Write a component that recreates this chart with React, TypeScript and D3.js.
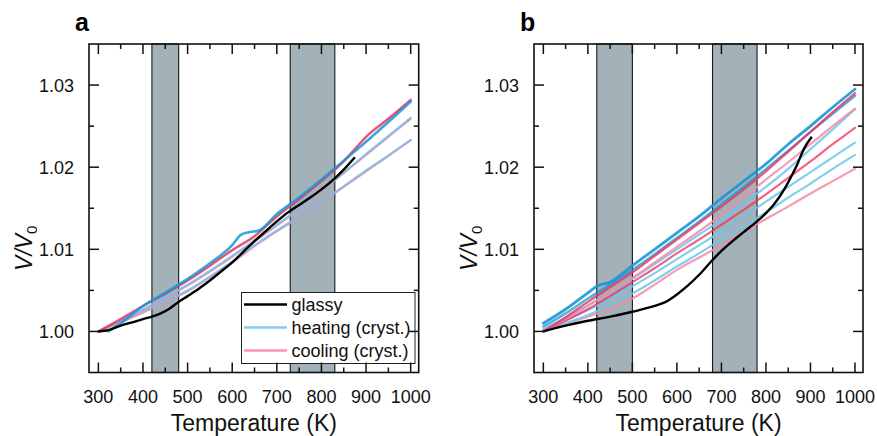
import React from "react";
import * as d3 from "d3";

// ---------- data ----------
const xTicksMajor = [300, 400, 500, 600, 700, 800, 900, 1000];
const xTicksMinor = [350, 450, 550, 650, 750, 850, 950];
const yTicksMajor = [1.0, 1.01, 1.02, 1.03];
const yTicksMinor = [1.005, 1.015, 1.025];
const yTickLabels = ["1.00", "1.01", "1.02", "1.03"];

const bandsA = [[420, 480], [730, 830]];
const bandsB = [[420, 500], [680, 780]];

// panel a
const tGlassA = [300, 325, 350, 375, 400, 420, 440, 460, 480, 500, 525, 550, 575, 600, 625, 650, 675, 700, 725, 750, 775, 800, 825, 850, 875];
const vGlassA = [1.0, 1.0002, 1.0007, 1.0011, 1.0015, 1.0018, 1.0022, 1.0028, 1.0036, 1.0043, 1.0052, 1.0062, 1.0073, 1.0084, 1.0097, 1.011, 1.0122, 1.0134, 1.0145, 1.0154, 1.0163, 1.0173, 1.0184, 1.0197, 1.0212];

const tHeatA1 = [322, 350, 400, 450, 500, 550, 600, 620, 640, 660, 700, 750, 800, 850, 900, 950, 1000];
const vHeatA1 = [1.0, 1.001, 1.0031, 1.0047, 1.0064, 1.0083, 1.0105, 1.0118, 1.0121, 1.0123, 1.0143, 1.0163, 1.0185, 1.0208, 1.0231, 1.0255, 1.028];
const tCoolA1 = [300, 350, 400, 450, 500, 550, 600, 650, 700, 750, 800, 850, 880, 900, 950, 1000];
const vCoolA1 = [1.0, 1.0015, 1.0031, 1.0046, 1.0062, 1.008, 1.0099, 1.0116, 1.014, 1.0161, 1.0183, 1.0207, 1.0225, 1.0237, 1.0259, 1.0282];
const tA = [300, 350, 400, 450, 500, 550, 600, 650, 700, 750, 800, 850, 900, 950, 1000];
const vHeatA2 = [1.0, 1.0013, 1.0027, 1.0042, 1.0057, 1.0074, 1.0092, 1.0111, 1.013, 1.015, 1.0172, 1.0193, 1.0216, 1.0238, 1.026];
const vCoolA2 = [1.0, 1.0012, 1.0026, 1.0041, 1.0056, 1.0073, 1.0091, 1.011, 1.0129, 1.0149, 1.0171, 1.0193, 1.0215, 1.0237, 1.0259];
const vHeatA3 = [1.0, 1.0012, 1.0024, 1.0037, 1.005, 1.0067, 1.0085, 1.0105, 1.0123, 1.014, 1.0158, 1.0177, 1.0196, 1.0214, 1.0233];
const vCoolA3 = [1.0, 1.0011, 1.0023, 1.0036, 1.0049, 1.0066, 1.0084, 1.0104, 1.0122, 1.0139, 1.0157, 1.0176, 1.0195, 1.0214, 1.0233];

// panel b
const tGlassB = [300, 350, 400, 450, 500, 550, 575, 600, 625, 650, 680, 700, 725, 750, 780, 800, 820, 840, 860, 870, 885, 903];
const vGlassB = [1.0, 1.0007, 1.0013, 1.0018, 1.0024, 1.0031, 1.0036, 1.0045, 1.0056, 1.0069, 1.0087, 1.0098, 1.011, 1.0121, 1.0134, 1.0144, 1.0156, 1.0172, 1.0192, 1.0203, 1.0222, 1.0237];

const tHeatB1 = [300, 350, 400, 420, 450, 500, 550, 600, 650, 700, 750, 800, 850, 900, 950, 1000];
const vHeatB1 = [1.001, 1.0027, 1.0047, 1.0055, 1.006, 1.008, 1.01, 1.012, 1.014, 1.0162, 1.0183, 1.0204, 1.0228, 1.025, 1.0273, 1.0295];
const tB = [300, 350, 400, 450, 500, 550, 600, 650, 700, 750, 800, 850, 900, 950, 1000];
const vCoolB1 = [1.0, 1.0017, 1.0036, 1.0054, 1.0072, 1.0092, 1.0112, 1.0132, 1.0152, 1.0173, 1.0195, 1.0219, 1.0243, 1.0267, 1.029];
const vHeatB2 = [1.0006, 1.0022, 1.004, 1.0057, 1.0075, 1.0094, 1.0114, 1.0134, 1.0155, 1.0176, 1.0198, 1.022, 1.0243, 1.0265, 1.0287];
const vCoolB2 = [1.0, 1.0015, 1.0031, 1.0048, 1.0065, 1.0084, 1.0103, 1.0122, 1.0142, 1.0163, 1.0185, 1.0206, 1.0228, 1.025, 1.0271];
const vHeatB3 = [1.0003, 1.0017, 1.0032, 1.0048, 1.0064, 1.0082, 1.01, 1.0118, 1.0136, 1.0156, 1.0176, 1.0198, 1.0222, 1.0246, 1.0271];
const vCoolB3 = [1.0, 1.0013, 1.0027, 1.0043, 1.006, 1.0077, 1.0095, 1.0112, 1.013, 1.0148, 1.0167, 1.0187, 1.0207, 1.0228, 1.0248];
const vHeatB4 = [1.0002, 1.0014, 1.0026, 1.004, 1.0055, 1.0071, 1.0088, 1.0105, 1.0122, 1.014, 1.0158, 1.0176, 1.0194, 1.0212, 1.023];
const vCoolB4 = [1.0, 1.0009, 1.0018, 1.0028, 1.004, 1.0057, 1.0075, 1.009, 1.0105, 1.0121, 1.0137, 1.0152, 1.0168, 1.0183, 1.0198];
const vHeatB5 = [1.0001, 1.001, 1.002, 1.0032, 1.0046, 1.0062, 1.0079, 1.0095, 1.0112, 1.0128, 1.0145, 1.0163, 1.018, 1.0198, 1.0215];

const legendLabels = ["glassy", "heating (cryst.)", "cooling (cryst.)"];

// ---------- styles ----------
const FONT = "'Liberation Sans', Arial, Helvetica, sans-serif";
const BLUE = "#1897d6";
const LBLUE = "#6cc5ee";
const RED = "#e8335f";
const PINK = "#f48aa6";
const BAND = "#a3b1b9";

type Series = { t: number[]; v: number[]; color: string; width: number; opacity: number };

const seriesA: Series[] = [
  { t: tA, v: vCoolA3, color: PINK, width: 2.3, opacity: 0.85 },
  { t: tA, v: vHeatA3, color: LBLUE, width: 2.3, opacity: 0.7 },
  { t: tA, v: vCoolA2, color: PINK, width: 2.3, opacity: 0.85 },
  { t: tA, v: vHeatA2, color: LBLUE, width: 2.3, opacity: 0.7 },
  { t: tCoolA1, v: vCoolA1, color: RED, width: 2.4, opacity: 0.85 },
  { t: tHeatA1, v: vHeatA1, color: BLUE, width: 2.6, opacity: 0.85 },
];
const seriesB: Series[] = [
  { t: tB, v: vCoolB4, color: PINK, width: 2.2, opacity: 0.85 },
  { t: tB, v: vHeatB5, color: LBLUE, width: 2.2, opacity: 0.85 },
  { t: tB, v: vHeatB4, color: LBLUE, width: 2.2, opacity: 0.85 },
  { t: tB, v: vCoolB3, color: RED, width: 2.2, opacity: 0.75 },
  { t: tB, v: vHeatB3, color: LBLUE, width: 2.2, opacity: 0.85 },
  { t: tB, v: vCoolB2, color: PINK, width: 2.2, opacity: 0.85 },
  { t: tB, v: vHeatB2, color: BLUE, width: 2.4, opacity: 0.75 },
  { t: tB, v: vCoolB1, color: RED, width: 2.4, opacity: 0.8 },
  { t: tHeatB1, v: vHeatB1, color: BLUE, width: 2.8, opacity: 0.9 },
];

type PanelProps = {
  left: number; right: number; top: number; bottom: number;
  label: string; bands: number[][]; series: Series[];
  tGlass: number[]; vGlass: number[]; legend: boolean;
};

function Panel({ left, right, top, bottom, label, bands, series, tGlass, vGlass, legend }: PanelProps) {
  const x = d3.scaleLinear().domain([279, 1018]).range([left, right]);
  const y = d3.scaleLinear().domain([0.995, 1.035]).range([bottom, top]);
  const line = d3.line<[number, number]>().x((d) => x(d[0])).y((d) => y(d[1])).curve(d3.curveMonotoneX);
  const pts = (t: number[], v: number[]) => t.map((tt, i) => [tt, v[i]] as [number, number]);
  const maj = 10, min = 5;
  const cx = (left + right) / 2;
  const cy = (top + bottom) / 2;
  return (
    <g>
      {bands.map(([a, b], i) => (
        <rect key={i} x={x(a)} y={top} width={x(b) - x(a)} height={bottom - top} fill={BAND} stroke="#1a1a1a" strokeWidth={1.1} />
      ))}
      {series.map((s, i) => (
        <path key={i} d={line(pts(s.t, s.v)) || ""} fill="none" stroke={s.color} strokeWidth={s.width} strokeOpacity={s.opacity} strokeLinejoin="round" strokeLinecap="round" />
      ))}
      <path d={line(pts(tGlass, vGlass)) || ""} fill="none" stroke="#000" strokeWidth={2.4} strokeLinejoin="round" />
      {legend && (
        <g>
          <rect x={241.5} y={292.5} width={173.5} height={71} fill="#fff" stroke="#222" strokeWidth={1} />
          {legendLabels.map((l, i) => {
            const yy = 304.5 + i * 23;
            const c = i === 0 ? "#000" : i === 1 ? "#80cef0" : "#ff93ad";
            return (
              <g key={l}>
                <line x1={244} x2={287} y1={yy} y2={yy} stroke={c} strokeWidth={2.6} />
                <text x={291.5} y={yy + 6} fontSize={18} fontFamily={FONT} fill="#111">{l}</text>
              </g>
            );
          })}
        </g>
      )}
      <rect x={left} y={top} width={right - left} height={bottom - top} fill="none" stroke="#111" strokeWidth={1.6} />
      {xTicksMajor.map((t) => (
        <g key={"xM" + t}>
          <line x1={x(t)} x2={x(t)} y1={bottom} y2={bottom - maj} stroke="#111" strokeWidth={1.5} />
          <line x1={x(t)} x2={x(t)} y1={top} y2={top + maj} stroke="#111" strokeWidth={1.5} />
          <text x={x(t)} y={403} textAnchor="middle" fontSize={18} fontFamily={FONT} fill="#111">{t}</text>
        </g>
      ))}
      {xTicksMinor.map((t) => (
        <g key={"xm" + t}>
          <line x1={x(t)} x2={x(t)} y1={bottom} y2={bottom - min} stroke="#111" strokeWidth={1.5} />
          <line x1={x(t)} x2={x(t)} y1={top} y2={top + min} stroke="#111" strokeWidth={1.5} />
        </g>
      ))}
      {yTicksMajor.map((v, i) => (
        <g key={"yM" + v}>
          <line x1={left} x2={left + maj} y1={y(v)} y2={y(v)} stroke="#111" strokeWidth={1.5} />
          <line x1={right} x2={right - maj} y1={y(v)} y2={y(v)} stroke="#111" strokeWidth={1.5} />
          <text x={left - 15} y={y(v) + 6.5} textAnchor="end" fontSize={18} fontFamily={FONT} fill="#111">{yTickLabels[i]}</text>
        </g>
      ))}
      {yTicksMinor.map((v) => (
        <g key={"ym" + v}>
          <line x1={left} x2={left + min} y1={y(v)} y2={y(v)} stroke="#111" strokeWidth={1.5} />
          <line x1={right} x2={right - min} y1={y(v)} y2={y(v)} stroke="#111" strokeWidth={1.5} />
        </g>
      ))}
      <text x={cx} y={431} textAnchor="middle" fontSize={23} fontFamily={FONT} fill="#111">Temperature (K)</text>
      <text transform={`translate(${left - 57},${cy + 40}) rotate(-90)`} textAnchor="middle" fontSize={23} fontFamily={FONT} fill="#111" fontStyle="italic">
        V/V<tspan fontSize={15} dy={5} fontStyle="normal">0</tspan>
      </text>
      <text x={left - 14} y={31} fontSize={25} fontWeight="bold" fontFamily={FONT} fill="#000">{label}</text>
    </g>
  );
}

export default function App() {
  return (
    <svg width={877} height={436} style={{ position: "absolute", left: 0, top: 0, background: "#fff" }}>
      <rect width={877} height={436} fill="#fff" />
      <Panel left={89} right={418.7} top={44} bottom={372.5} label="a" bands={bandsA} series={seriesA} tGlass={tGlassA} vGlass={vGlassA} legend={true} />
      <Panel left={534} right={863} top={44} bottom={372.5} label="b" bands={bandsB} series={seriesB} tGlass={tGlassB} vGlass={vGlassB} legend={false} />
    </svg>
  );
}
